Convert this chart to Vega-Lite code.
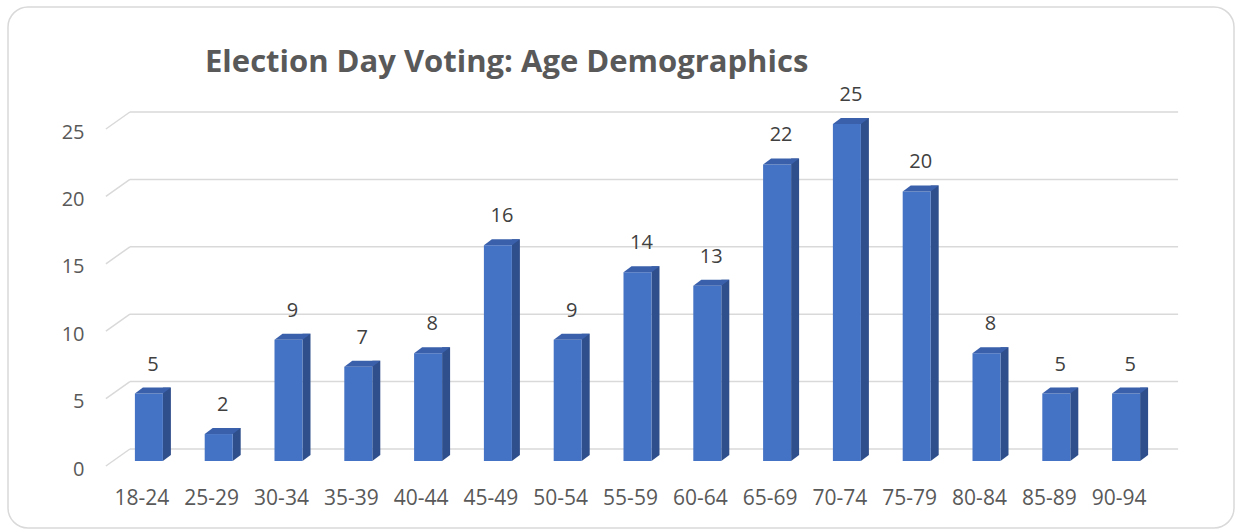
{
  "$schema": "https://vega.github.io/schema/vega-lite/v6.json",
  "width": 1226,
  "height": 521,
  "autosize": "none",
  "padding": {"left": 8, "top": 7, "right": 2, "bottom": 1},
  "background": "white",
  "config": {
    "view": {"stroke": "#D9D9D9", "strokeWidth": 1.5, "cornerRadius": 20},
    "font": "Open Sans"
  },
  "title": {
    "text": "Election Day Voting: Age Demographics",
    "anchor": "start",
    "frame": "group",
    "baseline": "alphabetic",
    "offset": -96,
    "dx": 197,
    "font": "Open Sans",
    "fontSize": 31,
    "fontWeight": "bold",
    "color": "#595959"
  },
  "datasets": {
    "votes": [
      {"age": "18-24", "count": 5},
      {"age": "25-29", "count": 2},
      {"age": "30-34", "count": 9},
      {"age": "35-39", "count": 7},
      {"age": "40-44", "count": 8},
      {"age": "45-49", "count": 16},
      {"age": "50-54", "count": 9},
      {"age": "55-59", "count": 14},
      {"age": "60-64", "count": 13},
      {"age": "65-69", "count": 22},
      {"age": "70-74", "count": 25},
      {"age": "75-79", "count": 20},
      {"age": "80-84", "count": 8},
      {"age": "85-89", "count": 5},
      {"age": "90-94", "count": 5}
    ],
    "grid": [{"v": 0}, {"v": 5}, {"v": 10}, {"v": 15}, {"v": 20}, {"v": 25}]
  },
  "data": {"name": "votes"},
  "layer": [
    {
      "data": {"name": "grid"},
      "mark": {"type": "rule", "color": "#D9D9D9", "strokeWidth": 1.5, "xOffset": -43, "x2Offset": -19, "yOffset": 5, "y2Offset": -12},
      "encoding": {
        "x": {"datum": "18-24", "type": "nominal", "bandPosition": 0.5},
        "x2": {"datum": "18-24", "bandPosition": 0.5},
        "y": {"field": "v", "type": "quantitative"},
        "y2": {"field": "v"}
      }
    },
    {
      "data": {"name": "grid"},
      "mark": {"type": "rule", "color": "#D9D9D9", "strokeWidth": 1.5, "xOffset": -19, "x2Offset": 52, "yOffset": -12},
      "encoding": {
        "x": {"datum": "18-24", "type": "nominal", "bandPosition": 0.5},
        "x2": {"datum": "90-94", "bandPosition": 0.5},
        "y": {"field": "v", "type": "quantitative"}
      }
    },
    {
      "mark": {"type": "bar", "width": 8, "xOffset": 18, "yOffset": -6, "y2Offset": -6, "color": "#2F4F8C"},
      "encoding": {
        "x": {"field": "age", "type": "nominal"},
        "y": {"field": "count", "type": "quantitative"},
        "y2": {"datum": 0}
      }
    },
    {
      "mark": {"type": "point", "filled": true, "opacity": 1, "size": 4, "shape": "M14,-6L14,0L22,-6Z", "color": "#2F4F8C", "strokeWidth": 0},
      "encoding": {
        "x": {"field": "age", "type": "nominal"},
        "y": {"datum": 0, "type": "quantitative"}
      }
    },
    {
      "mark": {"type": "bar", "width": 28, "color": "#4472C4"},
      "encoding": {
        "x": {
          "field": "age",
          "type": "nominal",
          "sort": null,
          "scale": {"type": "band", "range": [106, 1153], "paddingInner": 0, "paddingOuter": 0},
          "axis": {
            "title": null,
            "labelAngle": 0,
            "labelAlign": "center",
            "domain": false,
            "ticks": false,
            "bandPosition": 0.5,
            "offset": -30,
            "labelPadding": 0,
            "labelBaseline": "middle",
            "labelOffset": -7,
            "labelFont": "Open Sans",
            "labelFontSize": 21,
            "labelColor": "#595959"
          }
        },
        "y": {
          "field": "count",
          "type": "quantitative",
          "scale": {"domain": [-4.97, 33.68], "nice": false, "zero": false},
          "axis": {
            "title": null,
            "values": [0, 5, 10, 15, 20, 25],
            "grid": false,
            "domain": false,
            "ticks": false,
            "offset": -76,
            "labelPadding": 0,
            "labelOffset": 8,
            "labelFont": "Open Sans",
            "labelFontSize": 20,
            "labelColor": "#595959"
          }
        },
        "y2": {"datum": 0}
      }
    },
    {
      "mark": {"type": "point", "filled": true, "opacity": 1, "size": 4, "shape": "M-14,0L14,0L22,-6L-6,-6Z", "color": "#3A60AC", "strokeWidth": 0},
      "encoding": {
        "x": {"field": "age", "type": "nominal"},
        "y": {"field": "count", "type": "quantitative"}
      }
    },
    {
      "mark": {"type": "text", "font": "Open Sans", "fontSize": 20, "color": "#404040", "baseline": "middle", "yOffset": -29, "xOffset": 4},
      "encoding": {
        "x": {"field": "age", "type": "nominal"},
        "y": {"field": "count", "type": "quantitative"},
        "text": {"field": "count", "type": "quantitative"}
      }
    }
  ]
}
